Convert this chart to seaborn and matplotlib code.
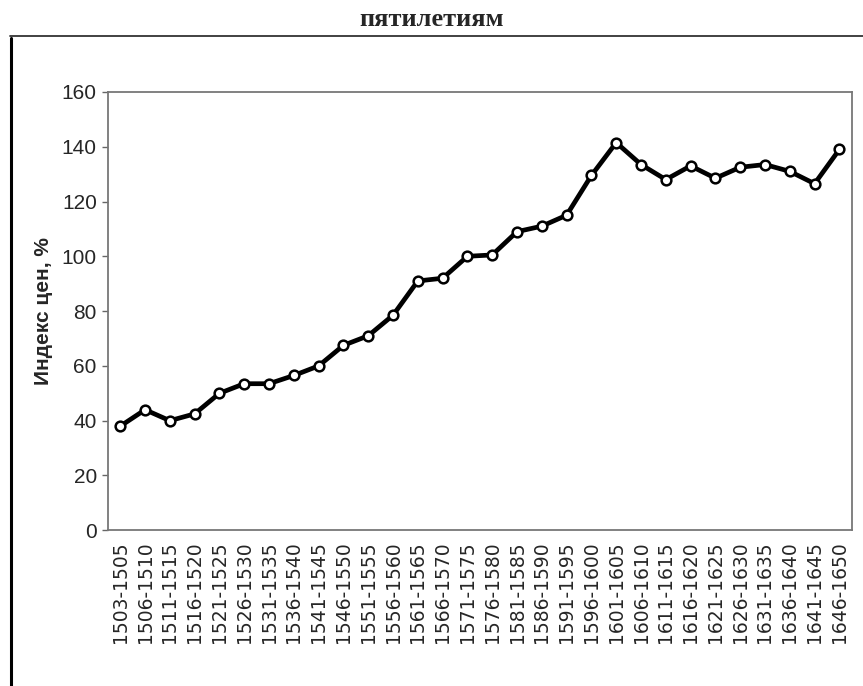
import seaborn as sns
import pandas as pd
import matplotlib as mpl
from matplotlib import pyplot as plt

periods = ['1503-1505', '1506-1510', '1511-1515', '1516-1520', '1521-1525',
           '1526-1530', '1531-1535', '1536-1540', '1541-1545', '1546-1550',
           '1551-1555', '1556-1560', '1561-1565', '1566-1570', '1571-1575',
           '1576-1580', '1581-1585', '1586-1590', '1591-1595', '1596-1600',
           '1601-1605', '1606-1610', '1611-1615', '1616-1620', '1621-1625',
           '1626-1630', '1631-1635', '1636-1640', '1641-1645', '1646-1650']
price_index = [38, 44, 40, 42.5, 50, 53.5, 53.5, 56.5, 60, 67.5,
               71, 78.5, 91, 92, 100, 100.5, 109, 111, 115, 129.5,
               141.5, 133.5, 128, 133, 128.5, 132.5, 133.5, 131, 126.5, 139]
y_ticks = [0, 20, 40, 60, 80, 100, 120, 140, 160]

df = pd.DataFrame({'period': periods, 'index': price_index})

sns.set_theme(style="white")
plt.rcParams['font.family'] = ['Liberation Sans', 'DejaVu Sans']

fig = plt.figure(figsize=(8.63, 6.86), dpi=100)
ax = fig.add_axes([0.125, 0.227, 0.862, 0.639])

sns.lineplot(data=df, x='period', y='index', sort=False, ax=ax,
             color='black', linewidth=3.4,
             marker='o', markersize=7, markerfacecolor='white',
             markeredgecolor='black', markeredgewidth=1.8)

ax.set_xlim(-0.5, len(periods) - 0.5)
ax.set_ylim(0, 160)
ax.set_yticks(y_ticks)
ax.set_yticklabels([str(t) for t in y_ticks], fontsize=15)
ax.set_xticks(range(len(periods)))
ax.set_xticklabels(periods, rotation=90, fontsize=13.5, family='DejaVu Sans')
ax.tick_params(axis='x', length=0, pad=8)
ax.tick_params(axis='y', length=4, width=1, color='#666666', pad=4, left=True)
ax.set_xlabel('')
ax.set_ylabel('Индекс цен, %', fontsize=15, fontweight='bold', labelpad=6)

for side, spine in ax.spines.items():
    spine.set_color('#777777')
    spine.set_linewidth(1.3)
    spine.set_visible(True)

fig.text(0.5, 0.972, 'пятилетиям', ha='center', va='center',
         fontsize=19, fontweight='bold', family='Liberation Serif')

# outer chart frame (left and top edges visible in the scan)
fig.add_artist(mpl.lines.Line2D([0.013, 0.013], [0.0, 0.945], color='black', linewidth=2.2))
fig.add_artist(mpl.lines.Line2D([0.012, 1.0], [0.947, 0.947], color='#333333', linewidth=1.3))

fig.savefig('out.png', dpi=100, facecolor='white')
